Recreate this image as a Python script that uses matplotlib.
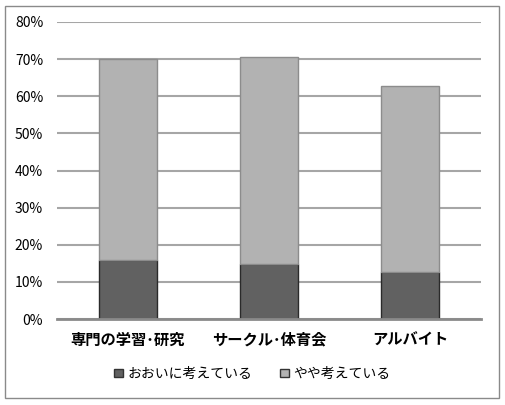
import matplotlib.pyplot as plt
from matplotlib.patches import Rectangle

plt.rcParams['font.family'] = ['Noto Sans CJK JP', 'DejaVu Sans']

# data (percent)
categories = ['専門の学習･研究', 'サークル･体育会', 'アルバイト']
strongly = [16.0, 14.8, 12.6]      # おおいに考えている
somewhat = [54.0, 55.8, 50.1]      # やや考えている
series_names = ['おおいに考えている', 'やや考えている']
yticks = [0, 10, 20, 30, 40, 50, 60, 70, 80]

fig = plt.figure(figsize=(5.05, 4.05), dpi=100)
ax = fig.add_axes([0.113, 0.212, 0.839, 0.734])

x = range(len(categories))
ax.bar(x, strongly, width=0.41, color='#616161', edgecolor='#2a2a2a', linewidth=1.0,
       label=series_names[0], zorder=3)
ax.bar(x, somewhat, width=0.41, bottom=strongly, color='#b2b2b2', edgecolor='#8c8c8c',
       linewidth=1.0, label=series_names[1], zorder=3)

ax.set_xlim(-0.5, 2.5)
ax.set_ylim(0, 80)
ax.set_yticks(yticks)
ax.set_yticklabels([f'{v}%' for v in yticks], fontsize=10)
ax.set_xticks(list(x))
ax.set_xticklabels(categories, fontsize=11, fontweight='bold')
ax.tick_params(length=0)
ax.tick_params(axis='y', pad=10)
ax.tick_params(axis='x', pad=9)
ax.grid(axis='y', color='#a6a6a6', linewidth=1.5, zorder=0)
for s in ['top', 'right', 'left']:
    ax.spines[s].set_visible(False)
ax.spines['bottom'].set_color('#8a8a8a')
ax.spines['bottom'].set_linewidth(2)
ax.spines['bottom'].set_zorder(4)

leg = fig.legend(loc='center', bbox_to_anchor=(0.5, 0.077), ncol=2, frameon=False,
                 fontsize=10, handlelength=0.6, handleheight=0.6, handletextpad=0.35,
                 columnspacing=2.0)
for h in leg.legend_handles:
    h.set_edgecolor('#333333')

# outer frame
fig.patches.append(Rectangle((0.01, 0.017), 0.978, 0.968, transform=fig.transFigure,
                             fill=False, edgecolor='#8a8a8a', linewidth=1))

fig.savefig('out.png', dpi=100)
